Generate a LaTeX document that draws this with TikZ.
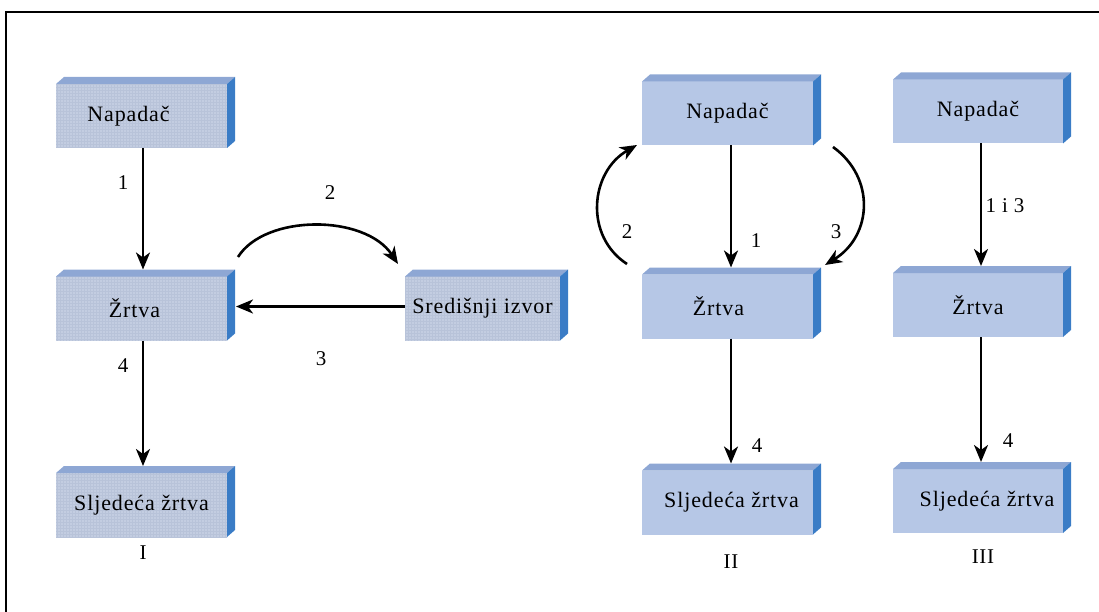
\documentclass[tikz,border=0pt]{standalone}
\usepackage{fontspec}
\setmainfont{Liberation Serif}
\usetikzlibrary{arrows.meta,patterns}
\definecolor{faceA}{HTML}{C3CDE1}
\definecolor{gridA}{HTML}{B8C3D9}
\definecolor{faceB}{HTML}{B6C7E6}
\definecolor{topband}{HTML}{8EA7D4}
\definecolor{sideband}{HTML}{3A7CC6}
\tikzset{
  slab/.style={minimum height=64pt, inner sep=0pt, outer sep=0pt,
    font=\fontsize{22}{24}\selectfont\addfontfeature{LetterSpace=4}},
  slabA/.style={slab, fill=faceA, postaction={pattern=grid, pattern color=gridA}},
  slabB/.style={slab, fill=faceB},
  lbl/.style={font=\fontsize{21}{23}\selectfont\addfontfeature{LetterSpace=3}},
  arr/.style={line width=2.6pt, -{Stealth[length=17pt,width=14pt,inset=5pt]}},
}
% top and side faces of a slab node
\newcommand{\slabfaces}[1]{%
  \fill[topband] (#1.north west) -- ([shift={(8pt,7pt)}]#1.north west)
     -- ([shift={(8pt,7pt)}]#1.north east) -- (#1.north east) -- cycle;
  \fill[sideband] (#1.north east) -- ([shift={(8pt,7pt)}]#1.north east)
     -- ([shift={(8pt,7pt)}]#1.south east) -- (#1.south east) -- cycle;
}
\begin{document}
\begin{tikzpicture}[x=1pt,y=-1pt]
\useasboundingbox (0,0) rectangle (1099,612);
% frame
\draw[line width=2pt] (6,612) -- (6,12) -- (1099,12);

% column I
\node[slabA, minimum width=171pt] (n1) at (141.5,116) {Napadač\hspace*{26pt}};
\node[slabA, minimum width=171pt] (z1) at (141.5,308.5) {Žrtva\hspace*{14pt}};
\node[slabA, minimum width=171pt] (s1) at (141.5,505) {Sljedeća žrtva};
\node[slabA, minimum width=155pt] (c1) at (482.5,308.5) {Središnji izvor};
% column II
\node[slabB, minimum width=171pt] (n2) at (727.5,113.5) {Napadač};
\node[slabB, minimum width=171pt] (z2) at (727.5,306.5) {Žrtva\hspace*{18pt}};
\node[slabB, minimum width=171pt] (s2) at (727.5,502.5) {\hspace*{8pt}Sljedeća žrtva};
% column III
\node[slabB, minimum width=170pt] (n3) at (978,111.5) {Napadač};
\node[slabB, minimum width=170pt] (z3) at (978,305) {Žrtva};
\node[slabB, minimum width=170pt] (s3) at (978,501) {\hspace*{18pt}Sljedeća žrtva};
\foreach \b in {n1,z1,s1,c1,n2,z2,s2,n3,z3,s3}{\slabfaces{\b}}

% connectors, column I
\draw[arr] ([xshift=1.5pt]n1.south) -- ([shift={(1.5pt,7pt)}]z1.north);
\draw[arr] ([xshift=1.5pt]z1.south) -- ([shift={(1.5pt,7pt)}]s1.north);
\draw[arr] ([yshift=2pt]c1.west) -- ([shift={(9pt,2pt)}]z1.east);
\coordinate (a2s) at (238,257);
\coordinate (a2e) at (398,264);
\draw[arr] (a2s) .. controls (265,214) and (365,214) .. (a2e);
% connectors, column II
\draw[arr] ([xshift=3.5pt]n2.south) -- ([shift={(3.5pt,7pt)}]z2.north);
\draw[arr] ([xshift=3.5pt]z2.south) -- ([shift={(3.5pt,7pt)}]s2.north);
\coordinate (b2s) at (627,264);
\coordinate (b2e) at (637,145);
\draw[arr] (b2s) .. controls (584,236) and (590,172) .. (b2e);
\coordinate (b3s) at (833,147);
\coordinate (b3e) at (825,265);
\draw[arr] (b3s) .. controls (876,178) and (872,236) .. (b3e);
% connectors, column III
\draw[arr] ([xshift=3pt]n3.south) -- ([shift={(3pt,7pt)}]z3.north);
\draw[arr] ([xshift=3pt]z3.south) -- ([shift={(3pt,7pt)}]s3.north);

% step labels
\node[lbl] (l1a) at (123,183) {1};
\node[lbl] (l2a) at (330,193) {2};
\node[lbl] (l3a) at (321,359) {3};
\node[lbl] (l4a) at (123,366) {4};
\node[lbl] (l2b) at (627,232) {2};
\node[lbl] (l1b) at (756,241) {1};
\node[lbl] (l3b) at (836,232) {3};
\node[lbl] (l4b) at (757,446) {4};
\node[lbl] (l13c) at (1005,206) {1 i 3};
\node[lbl] (l4c) at (1008,441) {4};
% column captions
\node[lbl] (r1) at (143,553) {I};
\node[lbl] (r2) at (731,562) {II};
\node[lbl] (r3) at (983,557) {III};
\end{tikzpicture}
\end{document}
